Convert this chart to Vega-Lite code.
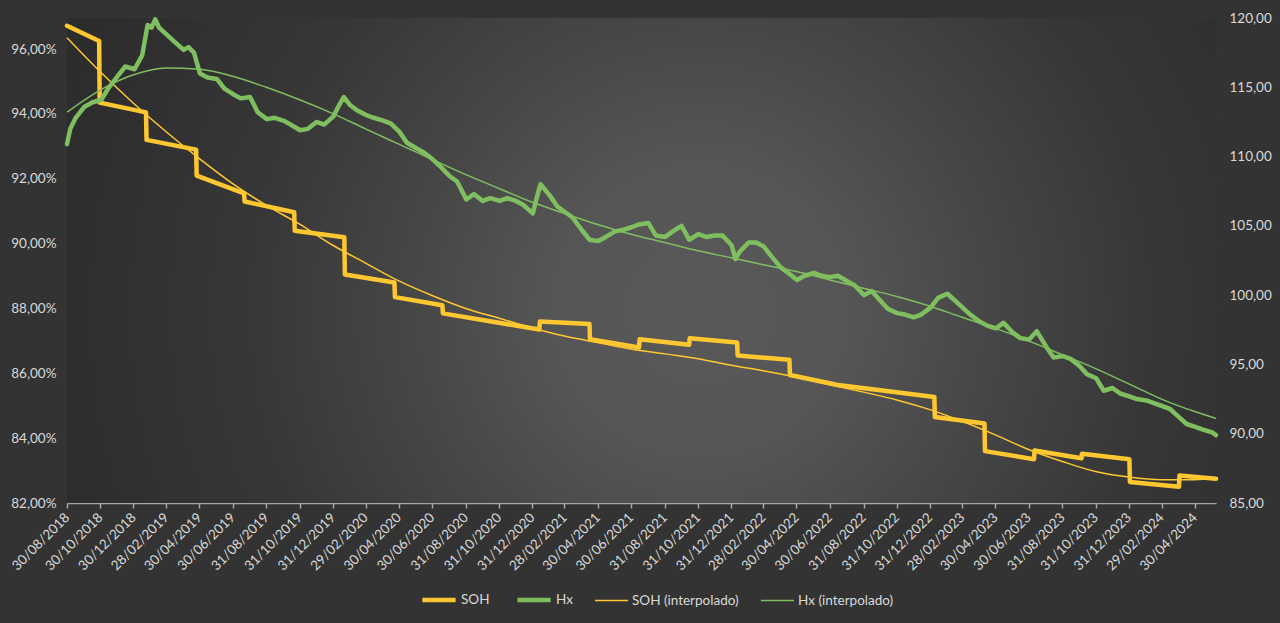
{
  "$schema": "https://vega.github.io/schema/vega-lite/v6.json",
  "width": 1149,
  "height": 485,
  "autosize": {"type": "none"},
  "padding": {"left": 67, "top": 18, "right": 64, "bottom": 120},
  "background": "#333333",
  "config": {
    "view": {"stroke": null, "fill": "#434343"},
    "font": "Lato",
    "axis": {
      "labelColor": "#d9d9d9",
      "labelFont": "Lato",
      "labelFontSize": 13.5,
      "gridColor": "#ffffff",
      "gridOpacity": 0.15,
      "gridWidth": 1,
      "title": null
    }
  },
  "data": {
    "values": [
      {"d": "2018-08-30", "s": "SOH", "v": 0.9672},
      {"d": "2018-10-28", "s": "SOH", "v": 0.9625},
      {"d": "2018-10-29", "s": "SOH", "v": 0.9435},
      {"d": "2019-01-22", "s": "SOH", "v": 0.9405},
      {"d": "2019-01-23", "s": "SOH", "v": 0.9320},
      {"d": "2019-04-24", "s": "SOH", "v": 0.9290},
      {"d": "2019-04-25", "s": "SOH", "v": 0.9210},
      {"d": "2019-07-21", "s": "SOH", "v": 0.9155},
      {"d": "2019-07-22", "s": "SOH", "v": 0.9130},
      {"d": "2019-10-21", "s": "SOH", "v": 0.9097},
      {"d": "2019-10-22", "s": "SOH", "v": 0.9040},
      {"d": "2020-01-21", "s": "SOH", "v": 0.9020},
      {"d": "2020-01-22", "s": "SOH", "v": 0.8905},
      {"d": "2020-04-22", "s": "SOH", "v": 0.8880},
      {"d": "2020-04-23", "s": "SOH", "v": 0.8835},
      {"d": "2020-07-19", "s": "SOH", "v": 0.8810},
      {"d": "2020-07-20", "s": "SOH", "v": 0.8785},
      {"d": "2021-01-13", "s": "SOH", "v": 0.8735},
      {"d": "2021-01-14", "s": "SOH", "v": 0.8760},
      {"d": "2021-04-15", "s": "SOH", "v": 0.8752},
      {"d": "2021-04-16", "s": "SOH", "v": 0.8705},
      {"d": "2021-07-15", "s": "SOH", "v": 0.8680},
      {"d": "2021-07-16", "s": "SOH", "v": 0.8705},
      {"d": "2021-10-15", "s": "SOH", "v": 0.8688},
      {"d": "2021-10-16", "s": "SOH", "v": 0.8708},
      {"d": "2022-01-11", "s": "SOH", "v": 0.8695},
      {"d": "2022-01-12", "s": "SOH", "v": 0.8655},
      {"d": "2022-04-17", "s": "SOH", "v": 0.8642},
      {"d": "2022-04-18", "s": "SOH", "v": 0.8595},
      {"d": "2022-07-15", "s": "SOH", "v": 0.8564},
      {"d": "2022-10-01", "s": "SOH", "v": 0.8548},
      {"d": "2023-01-08", "s": "SOH", "v": 0.8527},
      {"d": "2023-01-09", "s": "SOH", "v": 0.8465},
      {"d": "2023-04-10", "s": "SOH", "v": 0.8445},
      {"d": "2023-04-11", "s": "SOH", "v": 0.8360},
      {"d": "2023-07-10", "s": "SOH", "v": 0.8335},
      {"d": "2023-07-11", "s": "SOH", "v": 0.8362},
      {"d": "2023-10-05", "s": "SOH", "v": 0.8338},
      {"d": "2023-10-06", "s": "SOH", "v": 0.8352},
      {"d": "2024-01-01", "s": "SOH", "v": 0.8335},
      {"d": "2024-01-02", "s": "SOH", "v": 0.8265},
      {"d": "2024-04-01", "s": "SOH", "v": 0.8250},
      {"d": "2024-04-02", "s": "SOH", "v": 0.8285},
      {"d": "2024-06-08", "s": "SOH", "v": 0.8275},

      {"d": "2018-08-30", "s": "SOH (interpolado)", "v": 0.9635},
      {"d": "2018-10-30", "s": "SOH (interpolado)", "v": 0.9530},
      {"d": "2018-12-30", "s": "SOH (interpolado)", "v": 0.9433},
      {"d": "2019-02-28", "s": "SOH (interpolado)", "v": 0.9345},
      {"d": "2019-04-30", "s": "SOH (interpolado)", "v": 0.9262},
      {"d": "2019-06-30", "s": "SOH (interpolado)", "v": 0.9185},
      {"d": "2019-08-31", "s": "SOH (interpolado)", "v": 0.9118},
      {"d": "2019-10-31", "s": "SOH (interpolado)", "v": 0.9060},
      {"d": "2019-12-31", "s": "SOH (interpolado)", "v": 0.8995},
      {"d": "2020-02-29", "s": "SOH (interpolado)", "v": 0.8940},
      {"d": "2020-04-30", "s": "SOH (interpolado)", "v": 0.8885},
      {"d": "2020-06-30", "s": "SOH (interpolado)", "v": 0.8840},
      {"d": "2020-08-31", "s": "SOH (interpolado)", "v": 0.8800},
      {"d": "2020-10-31", "s": "SOH (interpolado)", "v": 0.8770},
      {"d": "2020-12-31", "s": "SOH (interpolado)", "v": 0.8740},
      {"d": "2021-02-28", "s": "SOH (interpolado)", "v": 0.8715},
      {"d": "2021-04-30", "s": "SOH (interpolado)", "v": 0.8695},
      {"d": "2021-06-30", "s": "SOH (interpolado)", "v": 0.8675},
      {"d": "2021-08-31", "s": "SOH (interpolado)", "v": 0.8660},
      {"d": "2021-10-31", "s": "SOH (interpolado)", "v": 0.8645},
      {"d": "2021-12-31", "s": "SOH (interpolado)", "v": 0.8625},
      {"d": "2022-02-28", "s": "SOH (interpolado)", "v": 0.8608},
      {"d": "2022-04-30", "s": "SOH (interpolado)", "v": 0.8588},
      {"d": "2022-06-30", "s": "SOH (interpolado)", "v": 0.8565},
      {"d": "2022-08-31", "s": "SOH (interpolado)", "v": 0.8542},
      {"d": "2022-10-31", "s": "SOH (interpolado)", "v": 0.8518},
      {"d": "2022-12-31", "s": "SOH (interpolado)", "v": 0.8488},
      {"d": "2023-02-28", "s": "SOH (interpolado)", "v": 0.8452},
      {"d": "2023-04-30", "s": "SOH (interpolado)", "v": 0.8410},
      {"d": "2023-06-30", "s": "SOH (interpolado)", "v": 0.8365},
      {"d": "2023-08-31", "s": "SOH (interpolado)", "v": 0.8328},
      {"d": "2023-10-31", "s": "SOH (interpolado)", "v": 0.8297},
      {"d": "2023-12-31", "s": "SOH (interpolado)", "v": 0.8280},
      {"d": "2024-02-29", "s": "SOH (interpolado)", "v": 0.8272},
      {"d": "2024-04-30", "s": "SOH (interpolado)", "v": 0.8272},
      {"d": "2024-06-08", "s": "SOH (interpolado)", "v": 0.8277},

      {"d": "2018-08-30", "s": "Hx", "v": 110.9},
      {"d": "2018-09-05", "s": "Hx", "v": 112.0},
      {"d": "2018-09-15", "s": "Hx", "v": 112.8},
      {"d": "2018-10-01", "s": "Hx", "v": 113.6},
      {"d": "2018-10-15", "s": "Hx", "v": 113.9},
      {"d": "2018-11-01", "s": "Hx", "v": 114.1},
      {"d": "2018-11-15", "s": "Hx", "v": 115.0},
      {"d": "2018-12-01", "s": "Hx", "v": 115.8},
      {"d": "2018-12-15", "s": "Hx", "v": 116.5},
      {"d": "2019-01-01", "s": "Hx", "v": 116.3},
      {"d": "2019-01-15", "s": "Hx", "v": 117.3},
      {"d": "2019-01-25", "s": "Hx", "v": 119.5},
      {"d": "2019-02-01", "s": "Hx", "v": 119.3},
      {"d": "2019-02-08", "s": "Hx", "v": 119.9},
      {"d": "2019-02-15", "s": "Hx", "v": 119.3},
      {"d": "2019-03-01", "s": "Hx", "v": 118.8},
      {"d": "2019-03-15", "s": "Hx", "v": 118.3},
      {"d": "2019-04-01", "s": "Hx", "v": 117.7},
      {"d": "2019-04-10", "s": "Hx", "v": 117.9},
      {"d": "2019-04-20", "s": "Hx", "v": 117.5},
      {"d": "2019-05-01", "s": "Hx", "v": 116.0},
      {"d": "2019-05-15", "s": "Hx", "v": 115.7},
      {"d": "2019-06-01", "s": "Hx", "v": 115.6},
      {"d": "2019-06-15", "s": "Hx", "v": 114.9},
      {"d": "2019-07-01", "s": "Hx", "v": 114.5},
      {"d": "2019-07-15", "s": "Hx", "v": 114.2},
      {"d": "2019-08-01", "s": "Hx", "v": 114.3},
      {"d": "2019-08-15", "s": "Hx", "v": 113.2},
      {"d": "2019-09-01", "s": "Hx", "v": 112.7},
      {"d": "2019-09-15", "s": "Hx", "v": 112.8},
      {"d": "2019-10-01", "s": "Hx", "v": 112.6},
      {"d": "2019-10-15", "s": "Hx", "v": 112.3},
      {"d": "2019-11-01", "s": "Hx", "v": 111.9},
      {"d": "2019-11-15", "s": "Hx", "v": 112.0},
      {"d": "2019-12-01", "s": "Hx", "v": 112.5},
      {"d": "2019-12-15", "s": "Hx", "v": 112.3},
      {"d": "2020-01-01", "s": "Hx", "v": 112.9},
      {"d": "2020-01-10", "s": "Hx", "v": 113.6},
      {"d": "2020-01-20", "s": "Hx", "v": 114.3},
      {"d": "2020-02-01", "s": "Hx", "v": 113.7},
      {"d": "2020-02-15", "s": "Hx", "v": 113.3},
      {"d": "2020-03-01", "s": "Hx", "v": 113.0},
      {"d": "2020-03-15", "s": "Hx", "v": 112.8},
      {"d": "2020-04-01", "s": "Hx", "v": 112.6},
      {"d": "2020-04-15", "s": "Hx", "v": 112.4},
      {"d": "2020-05-01", "s": "Hx", "v": 111.8},
      {"d": "2020-05-15", "s": "Hx", "v": 111.0},
      {"d": "2020-06-01", "s": "Hx", "v": 110.6},
      {"d": "2020-06-15", "s": "Hx", "v": 110.3},
      {"d": "2020-07-01", "s": "Hx", "v": 109.8},
      {"d": "2020-07-15", "s": "Hx", "v": 109.3},
      {"d": "2020-08-01", "s": "Hx", "v": 108.6},
      {"d": "2020-08-15", "s": "Hx", "v": 108.2},
      {"d": "2020-09-01", "s": "Hx", "v": 106.9},
      {"d": "2020-09-15", "s": "Hx", "v": 107.3},
      {"d": "2020-10-01", "s": "Hx", "v": 106.8},
      {"d": "2020-10-15", "s": "Hx", "v": 107.0},
      {"d": "2020-11-01", "s": "Hx", "v": 106.8},
      {"d": "2020-11-15", "s": "Hx", "v": 107.0},
      {"d": "2020-12-01", "s": "Hx", "v": 106.8},
      {"d": "2020-12-15", "s": "Hx", "v": 106.5},
      {"d": "2021-01-01", "s": "Hx", "v": 105.9},
      {"d": "2021-01-08", "s": "Hx", "v": 107.0},
      {"d": "2021-01-15", "s": "Hx", "v": 108.0},
      {"d": "2021-02-01", "s": "Hx", "v": 107.2},
      {"d": "2021-02-15", "s": "Hx", "v": 106.4},
      {"d": "2021-03-01", "s": "Hx", "v": 106.0},
      {"d": "2021-03-15", "s": "Hx", "v": 105.6},
      {"d": "2021-04-01", "s": "Hx", "v": 104.7},
      {"d": "2021-04-15", "s": "Hx", "v": 104.0},
      {"d": "2021-05-01", "s": "Hx", "v": 103.9},
      {"d": "2021-05-15", "s": "Hx", "v": 104.2},
      {"d": "2021-06-01", "s": "Hx", "v": 104.6},
      {"d": "2021-06-15", "s": "Hx", "v": 104.7},
      {"d": "2021-07-01", "s": "Hx", "v": 104.9},
      {"d": "2021-07-15", "s": "Hx", "v": 105.1},
      {"d": "2021-08-01", "s": "Hx", "v": 105.2},
      {"d": "2021-08-15", "s": "Hx", "v": 104.3},
      {"d": "2021-09-01", "s": "Hx", "v": 104.2},
      {"d": "2021-09-15", "s": "Hx", "v": 104.6},
      {"d": "2021-10-01", "s": "Hx", "v": 105.0},
      {"d": "2021-10-15", "s": "Hx", "v": 104.0},
      {"d": "2021-11-01", "s": "Hx", "v": 104.4},
      {"d": "2021-11-15", "s": "Hx", "v": 104.2},
      {"d": "2021-12-01", "s": "Hx", "v": 104.3},
      {"d": "2021-12-15", "s": "Hx", "v": 104.3},
      {"d": "2022-01-01", "s": "Hx", "v": 103.6},
      {"d": "2022-01-08", "s": "Hx", "v": 102.6},
      {"d": "2022-01-15", "s": "Hx", "v": 103.1},
      {"d": "2022-02-01", "s": "Hx", "v": 103.8},
      {"d": "2022-02-15", "s": "Hx", "v": 103.8},
      {"d": "2022-03-01", "s": "Hx", "v": 103.5},
      {"d": "2022-03-15", "s": "Hx", "v": 102.8},
      {"d": "2022-04-01", "s": "Hx", "v": 102.0},
      {"d": "2022-04-15", "s": "Hx", "v": 101.6},
      {"d": "2022-05-01", "s": "Hx", "v": 101.1},
      {"d": "2022-05-15", "s": "Hx", "v": 101.4},
      {"d": "2022-06-01", "s": "Hx", "v": 101.6},
      {"d": "2022-06-15", "s": "Hx", "v": 101.4},
      {"d": "2022-07-01", "s": "Hx", "v": 101.3},
      {"d": "2022-07-15", "s": "Hx", "v": 101.4},
      {"d": "2022-08-01", "s": "Hx", "v": 101.0},
      {"d": "2022-08-15", "s": "Hx", "v": 100.7},
      {"d": "2022-09-01", "s": "Hx", "v": 100.0},
      {"d": "2022-09-15", "s": "Hx", "v": 100.3},
      {"d": "2022-10-01", "s": "Hx", "v": 99.6},
      {"d": "2022-10-15", "s": "Hx", "v": 99.0},
      {"d": "2022-11-01", "s": "Hx", "v": 98.7},
      {"d": "2022-11-15", "s": "Hx", "v": 98.6},
      {"d": "2022-12-01", "s": "Hx", "v": 98.4},
      {"d": "2022-12-15", "s": "Hx", "v": 98.6},
      {"d": "2023-01-01", "s": "Hx", "v": 99.1},
      {"d": "2023-01-15", "s": "Hx", "v": 99.8},
      {"d": "2023-02-01", "s": "Hx", "v": 100.1},
      {"d": "2023-02-15", "s": "Hx", "v": 99.6},
      {"d": "2023-03-01", "s": "Hx", "v": 99.1},
      {"d": "2023-03-15", "s": "Hx", "v": 98.6},
      {"d": "2023-04-01", "s": "Hx", "v": 98.1},
      {"d": "2023-04-15", "s": "Hx", "v": 97.8},
      {"d": "2023-05-01", "s": "Hx", "v": 97.6},
      {"d": "2023-05-15", "s": "Hx", "v": 98.0},
      {"d": "2023-06-01", "s": "Hx", "v": 97.3},
      {"d": "2023-06-15", "s": "Hx", "v": 96.9},
      {"d": "2023-07-01", "s": "Hx", "v": 96.8},
      {"d": "2023-07-15", "s": "Hx", "v": 97.4},
      {"d": "2023-08-01", "s": "Hx", "v": 96.3},
      {"d": "2023-08-15", "s": "Hx", "v": 95.5},
      {"d": "2023-09-01", "s": "Hx", "v": 95.6},
      {"d": "2023-09-15", "s": "Hx", "v": 95.4},
      {"d": "2023-10-01", "s": "Hx", "v": 94.9},
      {"d": "2023-10-15", "s": "Hx", "v": 94.3},
      {"d": "2023-11-01", "s": "Hx", "v": 94.0},
      {"d": "2023-11-15", "s": "Hx", "v": 93.1},
      {"d": "2023-12-01", "s": "Hx", "v": 93.3},
      {"d": "2023-12-15", "s": "Hx", "v": 92.9},
      {"d": "2024-01-01", "s": "Hx", "v": 92.7},
      {"d": "2024-01-15", "s": "Hx", "v": 92.5},
      {"d": "2024-02-01", "s": "Hx", "v": 92.4},
      {"d": "2024-02-15", "s": "Hx", "v": 92.2},
      {"d": "2024-03-01", "s": "Hx", "v": 92.0},
      {"d": "2024-03-15", "s": "Hx", "v": 91.8},
      {"d": "2024-04-01", "s": "Hx", "v": 91.2},
      {"d": "2024-04-15", "s": "Hx", "v": 90.7},
      {"d": "2024-05-01", "s": "Hx", "v": 90.5},
      {"d": "2024-05-15", "s": "Hx", "v": 90.3},
      {"d": "2024-06-01", "s": "Hx", "v": 90.1},
      {"d": "2024-06-08", "s": "Hx", "v": 89.9},

      {"d": "2018-08-30", "s": "Hx (interpolado)", "v": 113.2},
      {"d": "2018-10-30", "s": "Hx (interpolado)", "v": 114.8},
      {"d": "2018-12-30", "s": "Hx (interpolado)", "v": 115.9},
      {"d": "2019-02-28", "s": "Hx (interpolado)", "v": 116.4},
      {"d": "2019-04-30", "s": "Hx (interpolado)", "v": 116.3},
      {"d": "2019-06-30", "s": "Hx (interpolado)", "v": 115.8},
      {"d": "2019-08-31", "s": "Hx (interpolado)", "v": 115.0},
      {"d": "2019-10-31", "s": "Hx (interpolado)", "v": 114.1},
      {"d": "2019-12-31", "s": "Hx (interpolado)", "v": 113.1},
      {"d": "2020-02-29", "s": "Hx (interpolado)", "v": 112.0},
      {"d": "2020-04-30", "s": "Hx (interpolado)", "v": 110.9},
      {"d": "2020-06-30", "s": "Hx (interpolado)", "v": 109.8},
      {"d": "2020-08-31", "s": "Hx (interpolado)", "v": 108.7},
      {"d": "2020-10-31", "s": "Hx (interpolado)", "v": 107.7},
      {"d": "2020-12-31", "s": "Hx (interpolado)", "v": 106.7},
      {"d": "2021-02-28", "s": "Hx (interpolado)", "v": 105.9},
      {"d": "2021-04-30", "s": "Hx (interpolado)", "v": 105.1},
      {"d": "2021-06-30", "s": "Hx (interpolado)", "v": 104.4},
      {"d": "2021-08-31", "s": "Hx (interpolado)", "v": 103.8},
      {"d": "2021-10-31", "s": "Hx (interpolado)", "v": 103.2},
      {"d": "2021-12-31", "s": "Hx (interpolado)", "v": 102.7},
      {"d": "2022-02-28", "s": "Hx (interpolado)", "v": 102.2},
      {"d": "2022-04-30", "s": "Hx (interpolado)", "v": 101.7},
      {"d": "2022-06-30", "s": "Hx (interpolado)", "v": 101.1},
      {"d": "2022-08-31", "s": "Hx (interpolado)", "v": 100.5},
      {"d": "2022-10-31", "s": "Hx (interpolado)", "v": 99.9},
      {"d": "2022-12-31", "s": "Hx (interpolado)", "v": 99.2},
      {"d": "2023-02-28", "s": "Hx (interpolado)", "v": 98.4},
      {"d": "2023-04-30", "s": "Hx (interpolado)", "v": 97.6},
      {"d": "2023-06-30", "s": "Hx (interpolado)", "v": 96.7},
      {"d": "2023-08-31", "s": "Hx (interpolado)", "v": 95.7},
      {"d": "2023-10-31", "s": "Hx (interpolado)", "v": 94.7},
      {"d": "2023-12-31", "s": "Hx (interpolado)", "v": 93.6},
      {"d": "2024-02-29", "s": "Hx (interpolado)", "v": 92.5},
      {"d": "2024-04-30", "s": "Hx (interpolado)", "v": 91.6},
      {"d": "2024-06-08", "s": "Hx (interpolado)", "v": 91.1}
    ]
  },
  "layer": [
    {
      "data": {"values": [{"bg": 1}]},
      "mark": {
        "type": "rect",
        "fill": {
          "gradient": "radial",
          "x1": 0.551, "y1": 0.543, "r1": 0,
          "x2": 0.551, "y2": 0.543, "r2": 0.653,
          "stops": [
            {"offset": 0, "color": "#595959"},
            {"offset": 0.2, "color": "#555555"},
            {"offset": 0.39, "color": "#464646"},
            {"offset": 0.6, "color": "#373737"},
            {"offset": 0.84, "color": "#2e2e2e"},
            {"offset": 1, "color": "#2a2a2a"}
          ]
        }
      }
    },
    {
      "encoding": {
        "x": {
          "field": "d",
          "type": "temporal",
          "scale": {
            "type": "utc",
            "domain": [1535587200000, 1717804800000]
          },
          "axis": {
            "values": [1535587200000, 1540857600000, 1546128000000, 1551312000000, 1556582400000, 1561852800000, 1567209600000, 1572480000000, 1577750400000, 1582934400000, 1588204800000, 1593475200000, 1598832000000, 1604102400000, 1609372800000, 1614470400000, 1619740800000, 1625011200000, 1630368000000, 1635638400000, 1640908800000, 1646006400000, 1651276800000, 1656547200000, 1661904000000, 1667174400000, 1672444800000, 1677542400000, 1682812800000, 1688083200000, 1693440000000, 1698710400000, 1703980800000, 1709164800000, 1714435200000],
            "format": "%d/%m/%Y",
            "labelAngle": -45,
            "labelAlign": "right",
            "labelBaseline": "middle",
            "labelPadding": 7,
            "labelOverlap": false,
            "labelBound": false,
            "labelFlush": false,
            "grid": true,
            "domain": true,
            "domainColor": "#a6a6a6",
            "domainWidth": 1.5,
            "ticks": true,
            "tickColor": "#a6a6a6",
            "tickWidth": 1.5,
            "tickSize": 5
          }
        },
        "color": {
          "field": "s",
          "type": "nominal",
          "scale": {
            "domain": ["SOH", "Hx", "SOH (interpolado)", "Hx (interpolado)"],
            "range": ["#ffc730", "#80bf5f", "#ffc730", "#80bf5f"]
          },
          "legend": {
            "title": null,
            "orient": "none",
            "legendX": 353,
            "legendY": 563,
            "direction": "horizontal",
            "symbolType": "stroke",
            "symbolSize": 1100,
            "labelColor": "#d9d9d9",
            "labelFont": "Lato",
            "labelFontSize": 13.5,
            "labelOffset": 3,
            "columnPadding": 18
          }
        },
        "strokeWidth": {
          "field": "s",
          "type": "nominal",
          "scale": {
            "type": "ordinal",
            "domain": ["SOH", "Hx", "SOH (interpolado)", "Hx (interpolado)"],
            "range": [4.5, 4.5, 1.5, 1.5]
          }
        }
      },
      "layer": [
        {
          "encoding": {
            "y": {
              "field": "v",
              "type": "quantitative",
              "scale": {"domain": [0.82, 0.9696], "nice": false, "zero": false},
              "axis": {
                "orient": "left",
                "values": [0.82, 0.84, 0.86, 0.88, 0.9, 0.92, 0.94, 0.96],
                "labelExpr": "format(round(datum.value * 100), 'd') + ',00%'",
                "grid": true,
                "domain": false,
                "ticks": false,
                "labelPadding": 11
              }
            }
          },
          "layer": [
            {
              "transform": [{"filter": "datum.s == 'SOH'"}],
              "mark": {"type": "line", "strokeJoin": "round", "strokeCap": "round"}
            },
            {
              "transform": [{"filter": "datum.s == 'SOH (interpolado)'"}],
              "mark": {"type": "line", "interpolate": "monotone"}
            }
          ]
        },
        {
          "encoding": {
            "y": {
              "field": "v",
              "type": "quantitative",
              "scale": {"domain": [85, 120], "nice": false, "zero": false},
              "axis": {
                "orient": "right",
                "values": [85, 90, 95, 100, 105, 110, 115, 120],
                "labelExpr": "format(datum.value, 'd') + ',00'",
                "grid": false,
                "domain": false,
                "ticks": false,
                "labelPadding": 13
              }
            }
          },
          "layer": [
            {
              "transform": [{"filter": "datum.s == 'Hx'"}],
              "mark": {"type": "line", "strokeJoin": "round", "strokeCap": "round"}
            },
            {
              "transform": [{"filter": "datum.s == 'Hx (interpolado)'"}],
              "mark": {"type": "line", "interpolate": "monotone"}
            }
          ]
        }
      ],
      "resolve": {"scale": {"y": "independent"}}
    }
  ],
  "resolve": {"scale": {"y": "independent"}}
}
